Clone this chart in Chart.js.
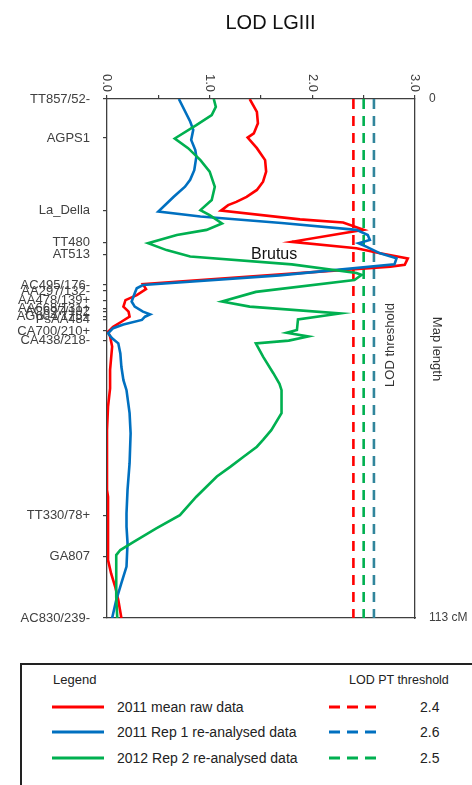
<!DOCTYPE html>
<html>
<head>
<meta charset="utf-8">
<script src="https://cdn.jsdelivr.net/npm/chart.js@4.4.0/dist/chart.umd.min.js"></script>
<style>
html,body{margin:0;padding:0;width:472px;height:785px;overflow:hidden;background:#fff;font-family:"Liberation Sans",Arial,sans-serif;}
#chart{position:absolute;left:0;top:0;}
#title{position:absolute;left:170px;width:201px;top:12px;line-height:20px;text-align:center;font-size:20px;color:#111;white-space:nowrap;}
#legendBox{position:absolute;left:20px;top:663px;width:452px;height:160px;border:2px solid #222;border-right:none;box-sizing:border-box;}
.lt{position:absolute;white-space:nowrap;color:#222;}
.ls{position:absolute;}
</style>
</head>
<body>
<canvas id="chart" width="472" height="650"></canvas>
<div id="title"></div>
<div id="legendBox"></div>
<div id="legend"></div>
<script>
// ---------- DATA ----------
const chartTitle = 'LOD LGIII';
const markerNames = ['TT857/52-','AGPS1','La_Della','TT480','AT513','AC495/176-','AA297/132-','AA478/139+','AA668/131+','AC697/192','AG604/175+','PsAA484','CA700/210+','CA438/218-','TT330/78+','GA807','AC830/239-'];
const markerPos = [0, 8.5, 24.3, 31.3, 33.8, 40.5, 41.8, 43.9, 45.6, 46.3, 47.3, 48.1, 50.5, 52.5, 90.6, 99.7, 113];

const xTickValues = [0, 1, 2, 3];
const xTickLabels = ['0.0', '1.0', '2.0', '3.0'];
const rightTickValues = [0, 113];
const rightTickLabels = ['0', '113 cM'];

const seriesNames = ['2011 mean raw data', '2011 Rep 1 re-analysed data', '2012 Rep 2 re-analysed data'];
const thresholds = [2.4, 2.6, 2.5];
const thresholdLabels = ['2.4', '2.6', '2.5'];

// 2011 mean raw data
const redPos = [0, 2.8, 5.3, 7.5, 8.4, 10.7, 13.3, 15.8, 18.0, 19.8, 21.3, 22.4, 23.1, 24.3, 26.2, 26.9, 28.5, 31.1, 32.5, 33.6, 34.7, 36.1, 36.5, 40.3, 41.4, 42.7, 43.8, 45.2, 46.3, 47.4, 48.5, 49.6, 50.7, 51.7, 53.9, 59.0, 63.0, 67.0, 72.1, 85.1, 86.6, 100.4, 103.3, 106.2, 109.1, 113];
const redLod = [1.39, 1.46, 1.47, 1.43, 1.37, 1.46, 1.54, 1.55, 1.52, 1.46, 1.36, 1.26, 1.18, 1.11, 1.88, 2.30, 2.50, 1.80, 2.43, 2.66, 2.93, 2.90, 2.76, 0.35, 0.38, 0.29, 0.18, 0.16, 0.21, 0.22, 0.14, 0.06, 0.01, 0.03, 0.05, 0.03, 0.03, 0.01, 0.00, 0.00, 0.01, 0.01, 0.04, 0.08, 0.11, 0.14];

// 2011 Rep 1 re-analysed data
const bluePos = [0, 4.9, 6.7, 8.9, 11.1, 12.6, 15.5, 17.6, 19.1, 21.3, 24.5, 25.6, 27.0, 28.5, 29.6, 30.7, 31.4, 32.2, 33.6, 34.7, 36.0, 38.4, 40.5, 41.2, 42.3, 44.1, 45.2, 46.3, 46.9, 47.4, 48.1, 49.1, 49.9, 51.0, 52.1, 53.2, 55.4, 58.3, 61.2, 63.4, 68.4, 72.8, 79.3, 85.1, 90.2, 93.1, 96.7, 101.8, 105.4, 109.1, 113];
const blueLod = [0.70, 0.81, 0.84, 0.82, 0.86, 0.87, 0.85, 0.81, 0.76, 0.65, 0.50, 0.91, 1.70, 2.43, 2.54, 2.56, 2.45, 2.53, 2.66, 2.82, 2.80, 1.68, 0.35, 0.29, 0.27, 0.24, 0.27, 0.35, 0.42, 0.37, 0.34, 0.16, 0.06, 0.01, 0.05, 0.11, 0.13, 0.14, 0.16, 0.19, 0.22, 0.23, 0.22, 0.20, 0.19, 0.19, 0.20, 0.19, 0.14, 0.09, 0.05];

// 2012 Rep 2 re-analysed data
const greenPos = [0, 1.7, 3.5, 5.7, 8.6, 10.7, 13.3, 15.8, 19.1, 22.0, 24.2, 25.3, 27.1, 28.5, 29.6, 31.4, 32.9, 34.3, 36.0, 37.9, 38.3, 39.4, 42.0, 44.1, 45.2, 46.7, 48.0, 50.3, 50.9, 51.7, 52.6, 53.2, 56.1, 59.7, 62.0, 63.4, 68.4, 72.1, 74.2, 75.7, 77.9, 80.1, 82.2, 86.6, 90.6, 93.5, 96.4, 98.2, 99.3, 103.3, 108.4, 113];
const greenLod = [1.04, 1.06, 1.02, 0.87, 0.66, 0.79, 0.91, 1.00, 1.05, 1.02, 0.91, 1.00, 1.12, 0.97, 0.68, 0.40, 0.58, 0.81, 1.80, 2.43, 2.48, 2.41, 1.45, 1.12, 1.39, 2.27, 1.86, 1.85, 1.75, 1.96, 1.77, 1.45, 1.52, 1.62, 1.68, 1.70, 1.70, 1.60, 1.52, 1.46, 1.33, 1.20, 1.07, 0.87, 0.71, 0.48, 0.26, 0.13, 0.09, 0.09, 0.09, 0.10];

const mapMin = 0, mapMax = 113;

// ---------- STYLE ----------
const lineColors = ['#FF0000', '#0070C0', '#00B050'];
const threshColors = ['#FF0000', '#31859C', '#00B050'];
const legendThreshColors = ['#FF0000', '#0070C0', '#00B050'];
const axisColor = '#3f3f3f';
const labelColor = '#404040';
const FONT = '"Liberation Sans", Arial, sans-serif';

function pts(pos, lod) { return pos.map((p, i) => ({ x: lod[i], y: p })); }

const curves = [[redPos, redLod], [bluePos, blueLod], [greenPos, greenLod]];
const drawOrder = [3, 2, 1];
const datasets = curves.map((c, i) => ({
  label: seriesNames[i],
  data: pts(c[0], c[1]),
  borderColor: lineColors[i],
  borderWidth: 2.6,
  pointRadius: 0,
  showLine: true,
  tension: 0,
  order: drawOrder[i]
}));
thresholds.forEach((t, i) => {
  datasets.push({
    label: 'threshold ' + thresholdLabels[i],
    data: [{ x: t, y: mapMin }, { x: t, y: mapMax }],
    borderColor: threshColors[i],
    borderWidth: 2.6,
    borderDash: [10, 7],
    pointRadius: 0,
    showLine: true,
    order: 10 + i
  });
});

const annotations = {
  id: 'annotations',
  afterDraw(chart) {
    const ctx = chart.ctx;
    const xs = chart.scales.x;
    const area = chart.chartArea;
    ctx.save();
    ctx.fillStyle = labelColor;
    ctx.font = '13px ' + FONT;
    ctx.textAlign = 'right';
    ctx.textBaseline = 'middle';
    xTickValues.forEach((v, i) => {
      const px = xs.getPixelForValue(v);
      ctx.save();
      ctx.translate(px, area.top - 7);
      ctx.rotate(Math.PI / 2);
      ctx.fillText(xTickLabels[i], 0, 0);
      ctx.restore();
    });
    // Brutus
    ctx.fillStyle = '#111';
    ctx.font = '16px ' + FONT;
    ctx.textAlign = 'left';
    ctx.textBaseline = 'alphabetic';
    ctx.fillText('Brutus', 251, 259);
    // LOD threshold
    ctx.fillStyle = '#333';
    ctx.font = '13px ' + FONT;
    ctx.textAlign = 'center';
    ctx.textBaseline = 'middle';
    ctx.save();
    ctx.translate(390, 345);
    ctx.rotate(-Math.PI / 2);
    ctx.fillText('LOD threshold', 0, 0);
    ctx.restore();
    // Map length
    ctx.save();
    ctx.translate(437, 349);
    ctx.rotate(Math.PI / 2);
    ctx.fillText('Map length', 0, 0);
    ctx.restore();
    ctx.restore();
  }
};

new Chart(document.getElementById('chart'), {
  type: 'scatter',
  data: { datasets },
  options: {
    responsive: false,
    animation: false,
    devicePixelRatio: 1,
    layout: { padding: 0 },
    plugins: { legend: { display: false }, tooltip: { enabled: false }, title: { display: false } },
    scales: {
      x: {
        type: 'linear', position: 'top', min: 0, max: 3,
        ticks: { stepSize: 0.5, callback: () => '', padding: 0, font: { size: 13, family: FONT } },
        grid: { drawOnChartArea: false, tickLength: 4, color: axisColor, lineWidth: 1.2 },
        border: { color: axisColor, width: 1.3 },
        afterFit(s) { s.height = 99; }
      },
      xb: {
        type: 'linear', position: 'bottom', min: 0, max: 3,
        ticks: { display: false },
        grid: { display: false },
        border: { display: true, color: axisColor, width: 1.3 },
        afterFit(s) { s.height = 32; }
      },
      y: {
        type: 'linear', position: 'left', min: mapMin, max: mapMax, reverse: true,
        afterBuildTicks(s) { s.ticks = markerPos.map(v => ({ value: v })); },
        ticks: {
          autoSkip: false, padding: 13, color: labelColor,
          font: { size: 13, family: FONT },
          callback: (v, i) => markerNames[i]
        },
        grid: { drawOnChartArea: false, tickLength: 4, color: axisColor, lineWidth: 1.2 },
        border: { color: axisColor, width: 1.3 },
        afterFit(s) { s.width = 107; }
      },
      y2: {
        type: 'linear', position: 'right', min: mapMin, max: mapMax, reverse: true,
        afterBuildTicks(s) { s.ticks = rightTickValues.map(v => ({ value: v })); },
        ticks: {
          autoSkip: false, padding: 14, color: labelColor,
          font: { size: 12, family: FONT },
          callback: (v, i) => rightTickLabels[i]
        },
        grid: { drawOnChartArea: false, drawTicks: false },
        border: { color: axisColor, width: 1.3 },
        afterFit(s) { s.width = 57; }
      }
    }
  },
  plugins: [annotations]
});

// ---------- TITLE & LEGEND (HTML) ----------
document.getElementById('title').textContent = chartTitle;
const lg = document.getElementById('legend');
function addText(txt, left, cy, size) {
  const d = document.createElement('div');
  d.className = 'lt';
  d.textContent = txt;
  d.style.left = left + 'px';
  d.style.top = (cy - 8) + 'px';
  d.style.fontSize = size + 'px';
  d.style.lineHeight = '16px';
  lg.appendChild(d);
}
function addLine(left, cy, width, color, dash) {
  const ns = 'http://www.w3.org/2000/svg';
  const s = document.createElementNS(ns, 'svg');
  s.setAttribute('class', 'ls');
  s.setAttribute('width', width);
  s.setAttribute('height', 6);
  s.style.left = left + 'px';
  s.style.top = (cy - 3) + 'px';
  const l = document.createElementNS(ns, 'line');
  l.setAttribute('x1', 0); l.setAttribute('x2', width);
  l.setAttribute('y1', 3); l.setAttribute('y2', 3);
  l.setAttribute('stroke', color);
  l.setAttribute('stroke-width', 3);
  if (dash) l.setAttribute('stroke-dasharray', dash);
  s.appendChild(l);
  lg.appendChild(s);
}
addText('Legend', 53, 680, 13);
addText('LOD PT threshold', 349, 680, 12.5);
const rowY = [707, 732, 758];
seriesNames.forEach((n, i) => {
  addLine(52, rowY[i], 52, lineColors[i], null);
  addText(n, 117, rowY[i], 14);
  addLine(329, rowY[i], 48, legendThreshColors[i], '11,7');
  addText(thresholdLabels[i], 420, rowY[i], 14);
});
</script>
</body>
</html>
